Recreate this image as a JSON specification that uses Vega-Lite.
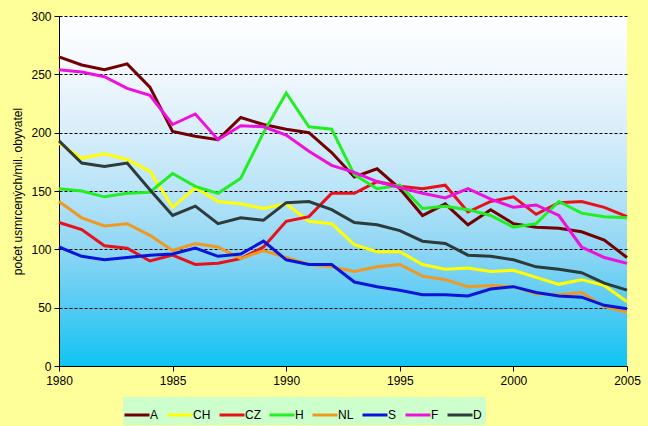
{
  "$schema": "https://vega.github.io/schema/vega-lite/v6.json",
  "autosize": "none",
  "width": 568,
  "height": 350,
  "padding": {"left": 59, "top": 16, "right": 21, "bottom": 60},
  "background": "#FFFF99",
  "config": {
    "font": "Liberation Sans",
    "view": {
      "stroke": null,
      "fill": {
        "gradient": "linear", "x1": 0, "y1": 0, "x2": 0, "y2": 1,
        "stops": [
          {"offset": 0, "color": "#FFFFFF"},
          {"offset": 0.17, "color": "#F0F7FD"},
          {"offset": 0.33, "color": "#D8EEFA"},
          {"offset": 0.5, "color": "#B8E4F8"},
          {"offset": 0.67, "color": "#8ED6F4"},
          {"offset": 0.83, "color": "#55CAF3"},
          {"offset": 1, "color": "#0FC4F4"}
        ]
      }
    },
    "axis": {
      "domainColor": "#000000", "domainWidth": 1,
      "tickColor": "#000000", "tickSize": 5, "tickWidth": 1,
      "labelColor": "#000000", "labelFontSize": 12, "labelFont": "Liberation Sans",
      "titleColor": "#000000", "titleFontSize": 12, "titleFontWeight": "normal", "titleFont": "Liberation Sans"
    },
    "legend": {
      "labelFontSize": 12, "labelColor": "#000000", "labelFont": "Liberation Sans"
    }
  },
  "data": {
    "values": [
      {"year": 1980, "A": 265, "CH": 191, "CZ": 123, "H": 152, "NL": 141, "S": 102, "F": 254, "D": 193},
      {"year": 1981, "A": 258, "CH": 178, "CZ": 117, "H": 150, "NL": 127, "S": 94, "F": 252, "D": 174},
      {"year": 1982, "A": 254, "CH": 182, "CZ": 103, "H": 145, "NL": 120, "S": 91, "F": 248, "D": 171},
      {"year": 1983, "A": 259, "CH": 177, "CZ": 101, "H": 148, "NL": 122, "S": 93, "F": 238, "D": 174},
      {"year": 1984, "A": 239, "CH": 167, "CZ": 90, "H": 149, "NL": 112, "S": 95, "F": 232, "D": 151},
      {"year": 1985, "A": 201, "CH": 136, "CZ": 95, "H": 165, "NL": 99, "S": 96, "F": 207, "D": 129},
      {"year": 1986, "A": 197, "CH": 153, "CZ": 87, "H": 154, "NL": 105, "S": 101, "F": 216, "D": 137},
      {"year": 1987, "A": 194, "CH": 141, "CZ": 88, "H": 148, "NL": 102, "S": 94, "F": 194, "D": 122},
      {"year": 1988, "A": 213, "CH": 139, "CZ": 92, "H": 161, "NL": 92, "S": 96, "F": 206, "D": 127},
      {"year": 1989, "A": 207, "CH": 135, "CZ": 102, "H": 200, "NL": 99, "S": 107, "F": 205, "D": 125},
      {"year": 1990, "A": 203, "CH": 139, "CZ": 124, "H": 234, "NL": 93, "S": 91, "F": 198, "D": 140},
      {"year": 1991, "A": 200, "CH": 124, "CZ": 128, "H": 205, "NL": 87, "S": 87, "F": 184, "D": 141},
      {"year": 1992, "A": 183, "CH": 122, "CZ": 148, "H": 203, "NL": 85, "S": 87, "F": 172, "D": 134},
      {"year": 1993, "A": 162, "CH": 104, "CZ": 148, "H": 164, "NL": 81, "S": 72, "F": 166, "D": 123},
      {"year": 1994, "A": 169, "CH": 98, "CZ": 158, "H": 152, "NL": 85, "S": 68, "F": 158, "D": 121},
      {"year": 1995, "A": 152, "CH": 98, "CZ": 154, "H": 155, "NL": 87, "S": 65, "F": 153, "D": 116},
      {"year": 1996, "A": 129, "CH": 87, "CZ": 152, "H": 135, "NL": 77, "S": 61, "F": 148, "D": 107},
      {"year": 1997, "A": 139, "CH": 83, "CZ": 155, "H": 137, "NL": 74, "S": 61, "F": 144, "D": 105},
      {"year": 1998, "A": 121, "CH": 84, "CZ": 132, "H": 134, "NL": 68, "S": 60, "F": 152, "D": 95},
      {"year": 1999, "A": 134, "CH": 81, "CZ": 141, "H": 129, "NL": 69, "S": 66, "F": 143, "D": 94},
      {"year": 2000, "A": 122, "CH": 82, "CZ": 145, "H": 119, "NL": 68, "S": 68, "F": 136, "D": 91},
      {"year": 2001, "A": 119, "CH": 76, "CZ": 130, "H": 122, "NL": 62, "S": 63, "F": 138, "D": 85},
      {"year": 2002, "A": 118, "CH": 70, "CZ": 140, "H": 141, "NL": 61, "S": 60, "F": 129, "D": 83},
      {"year": 2003, "A": 115, "CH": 74, "CZ": 141, "H": 131, "NL": 63, "S": 59, "F": 102, "D": 80},
      {"year": 2004, "A": 108, "CH": 69, "CZ": 136, "H": 128, "NL": 51, "S": 52, "F": 93, "D": 71},
      {"year": 2005, "A": 93, "CH": 55, "CZ": 128, "H": 127, "NL": 46, "S": 49, "F": 88, "D": 65}
    ]
  },
  "transform": [
    {"fold": ["A", "CH", "CZ", "H", "NL", "S", "F", "D"], "as": ["country", "value"]}
  ],
  "mark": {"type": "line", "strokeWidth": 3, "strokeJoin": "miter"},
  "encoding": {
    "x": {
      "field": "year", "type": "quantitative",
      "scale": {"domain": [1980, 2005], "nice": false, "zero": false},
      "axis": {"values": [1980, 1985, 1990, 1995, 2000, 2005], "format": "d", "grid": false, "title": null, "labelPadding": 4, "labelFlush": false}
    },
    "y": {
      "field": "value", "type": "quantitative",
      "scale": {"domain": [0, 300], "nice": false},
      "axis": {
        "values": [0, 50, 100, 150, 200, 250, 300],
        "grid": true, "gridColor": "#000000", "gridDash": [3, 2], "gridWidth": 1,
        "title": "počet usmrcených/mil. obyvatel", "titlePadding": 6, "labelPadding": 3
      }
    },
    "color": {
      "field": "country", "type": "nominal",
      "scale": {
        "domain": ["A", "CH", "CZ", "H", "NL", "S", "F", "D"],
        "range": ["#730000", "#FFFF00", "#E8101A", "#22EE22", "#EE9A22", "#0A14D8", "#EE11DD", "#2E3B3B"]
      },
      "sort": null,
      "legend": {
        "title": null, "orient": "none", "direction": "horizontal", "columns": 8, "gridAlign": "none",
        "legendX": 64, "legendY": 381,
        "symbolType": "stroke", "symbolSize": 625, "symbolStrokeWidth": 3,
        "symbolOffset": -4,
        "labelOffset": -1, "columnPadding": 2, "padding": 4,
        "fillColor": "#CCFFCC", "strokeColor": null
      }
    }
  }
}
